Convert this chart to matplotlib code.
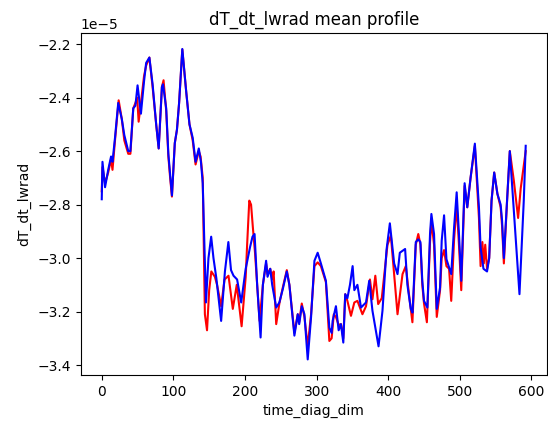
import numpy as np
import matplotlib
matplotlib.use("Agg")
import matplotlib.pyplot as plt

# values (units of 1e-5)
x_blue = [0, 1, 4.6, 9, 13, 15, 18.5, 23, 28, 31.5, 37, 40, 44, 47, 50, 54.7, 59, 62, 66.5,
          71, 76, 79.5, 84, 85.5, 90, 93, 95.5, 98, 102, 105, 108, 112.5, 118, 122.5, 127,
          131, 135.5, 138.5, 141, 145.5, 149, 152.8, 156, 160, 166.7, 172, 176.8, 180.5,
          184, 189, 194.7, 201, 207, 210.5, 213.4, 217, 221.8, 225, 229.5, 231.5, 235.3,
          238, 243.6, 248, 252.8, 258.4, 262, 269, 273.7, 275.7, 279.3, 283, 287.6, 292.3,
          297, 301.5, 306, 313, 317.8, 321, 322.4, 327, 330.8, 334, 337.3, 340, 343, 346.6,
          350.3, 352.7, 357, 362, 369, 373.5, 378, 382, 386.5, 392, 397.6, 402.3, 408.3,
          413, 416.2, 423.6, 426.8, 431.5, 434, 438.5, 442, 445, 447.6, 450, 454.7, 458.4,
          460.3, 464, 467.8, 472.4, 474.7, 478, 481.3, 483.5, 488, 492, 495.6, 498.8, 502,
          506.7, 510.4, 515, 521, 526.7, 529, 533, 538, 541, 544.3, 548, 552.5, 557, 559,
          561.5, 566, 569.8, 575.4, 583.3, 589.3, 592]
y_blue = [-2.78, -2.64, -2.735, -2.67, -2.62, -2.64, -2.55, -2.42, -2.48, -2.54, -2.60, -2.60,
          -2.44, -2.43, -2.354, -2.46, -2.34, -2.27, -2.25, -2.35, -2.50, -2.59, -2.36, -2.35,
          -2.44, -2.61, -2.69, -2.766, -2.57, -2.52, -2.42, -2.218, -2.38, -2.50, -2.55,
          -2.64, -2.59, -2.64, -2.72, -3.166, -3.00, -2.92, -3.00, -3.075, -3.235, -3.05,
          -2.94, -3.045, -3.066, -3.08, -3.166, -3.04, -2.96, -2.92, -2.91, -3.10, -3.297,
          -3.10, -3.01, -3.07, -3.04, -3.10, -3.185, -3.166, -3.116, -3.05, -3.10, -3.29,
          -3.21, -3.247, -3.18, -3.21, -3.379, -3.22, -3.01, -2.98, -3.02, -3.085, -3.26,
          -3.28, -3.235, -3.18, -3.27, -3.247, -3.316, -3.135, -3.15, -3.10, -3.03, -3.12,
          -3.10, -3.185, -3.166, -3.085, -3.197, -3.26, -3.33, -3.197, -2.97, -2.87, -3.02,
          -3.06, -2.98, -2.966, -3.10, -3.19, -3.204, -2.94, -2.93, -2.94, -3.085, -3.16,
          -3.185, -2.91, -2.835, -2.91, -3.19, -3.11, -2.935, -2.84, -3.004, -3.022, -3.06,
          -2.885, -2.754, -2.91, -3.085, -2.72, -2.81, -2.70, -2.572, -2.81, -2.96, -3.04,
          -3.05, -3.0, -2.785, -2.68, -2.76, -2.80, -2.86, -3.0, -2.785, -2.60, -2.82,
          -3.135, -2.785, -2.58]

x_red = [0, 1, 4.6, 9, 13, 15, 18.5, 23.6, 28, 31.5, 37, 40, 44, 47, 49.5, 51.5, 54.7, 59, 62,
         66.5, 71, 76, 79.5, 84, 86.3, 90, 93, 95.5, 98, 102, 105, 108, 112.5, 118, 122.5,
         127, 131, 135.5, 138, 141, 144, 147, 150, 153, 158, 161, 166.7, 171.5, 177, 183,
         188.5, 195.3, 201, 203, 206, 208.5, 211, 214, 220.4, 225, 229.5, 231.5, 235.3, 238,
         240, 243.6, 248, 252.8, 258.4, 262, 269, 273.7, 275.7, 279.3, 283, 287.6, 292.3,
         297, 301.5, 306, 313, 317.8, 321, 324, 327, 330.8, 334, 337.3, 340, 343, 348,
         352.7, 357, 364, 369, 374.5, 378, 382, 386, 391, 399, 403.7, 408.3, 413, 420,
         424.6, 429, 433.8, 438.5, 442, 445, 447.6, 450, 454, 458.4, 460.3, 464, 467.8,
         472.4, 474.7, 478, 481.3, 485, 488, 492, 495.6, 498.8, 502, 506.7, 510.4, 515, 521,
         526.7, 529, 531.5, 533.5, 535.5, 538, 541, 544.3, 548, 552.5, 557, 559, 561.5, 566,
         569.8, 575.4, 581.4, 585, 592]
y_red = [-2.75, -2.66, -2.72, -2.68, -2.63, -2.67, -2.56, -2.41, -2.48, -2.56, -2.61, -2.61,
         -2.44, -2.42, -2.40, -2.49, -2.42, -2.32, -2.28, -2.25, -2.36, -2.50, -2.59, -2.36,
         -2.335, -2.45, -2.62, -2.70, -2.77, -2.57, -2.52, -2.42, -2.22, -2.38, -2.50, -2.56,
         -2.65, -2.60, -2.62, -2.70, -3.21, -3.27, -3.12, -3.05, -3.07, -3.10, -3.18, -3.08,
         -3.066, -3.19, -3.10, -3.255, -3.07, -2.95, -2.785, -2.80, -2.885, -2.98, -3.235,
         -3.10, -3.02, -3.06, -3.04, -3.08, -3.05, -3.247, -3.17, -3.11, -3.045, -3.10,
         -3.28, -3.21, -3.24, -3.17, -3.22, -3.33, -3.21, -3.03, -3.016, -3.03, -3.09,
         -3.31, -3.30, -3.21, -3.22, -3.25, -3.247, -3.30, -3.135, -3.16, -3.216, -3.166,
         -3.16, -3.21, -3.18, -3.08, -3.154, -3.066, -3.172, -3.15, -2.95, -2.916, -3.06,
         -3.21, -3.06, -3.03, -3.135, -3.24, -2.95, -2.91, -2.95, -3.10, -3.17, -3.24, -2.94,
         -2.86, -2.95, -3.22, -3.12, -3.00, -2.97, -3.03, -3.04, -3.16, -2.93, -2.80, -2.95,
         -3.12, -2.73, -2.81, -2.70, -2.58, -2.85, -3.03, -2.94, -3.02, -2.95, -3.04, -3.0,
         -2.785, -2.68, -2.76, -2.81, -2.88, -3.02, -2.785, -2.60, -2.71, -2.85, -2.74, -2.60]

fig = plt.figure(figsize=(5.48, 4.29), dpi=100)
ax = fig.add_axes([0.147, 0.126, 0.851, 0.796])
ax.plot(x_red, np.array(y_red) * 1e-5, color="red")
ax.plot(x_blue, np.array(y_blue) * 1e-5, color="blue")
ax.set_title("dT_dt_lwrad mean profile")
ax.set_xlabel("time_diag_dim")
ax.set_ylabel("dT_dt_lwrad")
fig.savefig("out.png", dpi=100)
